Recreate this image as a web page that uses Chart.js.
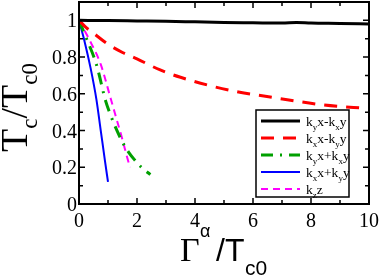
<!DOCTYPE html>
<html>
<head>
<meta charset="utf-8">
<script src="https://cdn.jsdelivr.net/npm/chart.js@4.4.1/dist/chart.umd.min.js"></script>
<style>
	html, body { margin: 0; padding: 0; background: #fff; }
	#wrap { width: 382px; height: 276px; position: relative; overflow: hidden; }
	#overlay { position: absolute; left: 0; top: 0; width: 382px; height: 276px; pointer-events: none; }
	#overlay div, #overlay span { white-space: nowrap; color: #000; }
	.serif { font-family: "Liberation Serif", "Times New Roman", serif; }
	.sans { font-family: "Liberation Sans", Arial, sans-serif; }
	.abs { position: absolute; }
	.tick { position: absolute; font-size: 20px; line-height: 20px; }
	.low { line-height: 0; position: relative; }
</style>
</head>
<body>
<div id="wrap">
	<canvas id="tc-chart" width="382" height="276"></canvas>
	<div id="overlay"></div>
</div>
<script>
	'use strict';

	// Tick positions / labels
	const xTicks = [0, 2, 4, 6, 8, 10];
	const xMinorTicks = [1, 3, 5, 7, 9];
	const yTicks = [0, 0.2, 0.4, 0.6, 0.8, 1];
	const yMinorTicks = [0.1, 0.3, 0.5, 0.7, 0.9];
	const xTickLabels = ['0', '2', '4', '6', '8', '10'];
	const yTickLabels = ['0', '0.2', '0.4', '0.6', '0.8', '1'];

	// k_y x - k_x y (black, solid)
	const blackX = [0, 1, 2, 3, 4, 5, 6, 7, 7.5, 8, 9, 10];
	const blackY = [1, 0.999, 0.997, 0.995, 0.992, 0.989, 0.987, 0.985, 0.988, 0.985, 0.983, 0.98];

	// k_x x - k_y y (red, dashed)
	const redX = [0, 0.25, 0.5, 1, 1.5, 2, 2.8, 3.5, 4.5, 5.5, 6.7, 8.4, 10];
	const redY = [1, 0.96, 0.93, 0.87, 0.825, 0.79, 0.73, 0.69, 0.645, 0.61, 0.58, 0.54, 0.52];

	// k_y x + k_x y (green, dash-dot)
	const greenX = [0, 0.26, 0.6, 0.92, 1.05, 1.28, 1.49, 1.72, 1.92, 2.15, 2.46];
	const greenY = [1, 0.9, 0.76, 0.56, 0.5, 0.41, 0.34, 0.28, 0.24, 0.2, 0.16];

	// k_x x + k_y y (blue, solid)
	const blueX = [0, 0.2, 0.4, 0.6, 0.75, 0.9, 1.0];
	const blueY = [1, 0.88, 0.74, 0.57, 0.4, 0.23, 0.12];

	// k_z z (magenta, dashed)
	const magentaX = [0, 0.34, 0.75, 1.1, 1.3, 1.5, 1.65, 1.76];
	const magentaY = [1, 0.9, 0.76, 0.57, 0.46, 0.35, 0.26, 0.2];

	// '_' makes the next character a subscript
	const legendLabels = ['k_yx-k_xy', 'k_xx-k_yy', 'k_yx+k_xy', 'k_xx+k_yy', 'k_zz'];

	function points(xs, ys) {
		return xs.map((x, i) => ({ x: x, y: ys[i] }));
	}

	function series(xs, ys, color, width, dash) {
		return {
			data: points(xs, ys),
			borderColor: color,
			borderWidth: width,
			borderDash: dash,
			borderCapStyle: 'butt',
			pointRadius: 0,
			fill: false,
			cubicInterpolationMode: 'monotone'
		};
	}

	const datasets = [
		series(blackX, blackY, '#000000', 3, []),
		series(redX, redY, '#ff0000', 3, [13, 9]),
		series(greenX, greenY, '#00a000', 3, [12, 7, 2, 7]),
		series(blueX, blueY, '#0000ff', 2, []),
		series(magentaX, magentaY, '#ff00ff', 2, [7, 5])
	];

	const LEGEND = { x: 256, y: 110, w: 93, h: 87, first: 121, step: 17 };

	// frame, inward ticks and legend box/samples (text goes in the html overlay)
	const framePlugin = {
		id: 'frame',
		afterDatasetsDraw(chart) {
			const ctx = chart.ctx;
			const a = chart.chartArea;
			const sx = chart.scales.x;
			const sy = chart.scales.y;

			ctx.save();
			ctx.strokeStyle = '#000';

			ctx.lineWidth = 1.5;
			ctx.beginPath();
			const tickX = (v, len) => {
				const px = sx.getPixelForValue(v);
				ctx.moveTo(px, a.bottom); ctx.lineTo(px, a.bottom - len);
				ctx.moveTo(px, a.top); ctx.lineTo(px, a.top + len);
			};
			const tickY = (v, len) => {
				const py = sy.getPixelForValue(v);
				ctx.moveTo(a.left, py); ctx.lineTo(a.left + len, py);
				ctx.moveTo(a.right, py); ctx.lineTo(a.right - len, py);
			};
			xTicks.forEach(v => tickX(v, 6));
			xMinorTicks.forEach(v => tickX(v, 4));
			yTicks.forEach(v => tickY(v, 6));
			yMinorTicks.forEach(v => tickY(v, 4));
			ctx.stroke();

			ctx.lineWidth = 2;
			ctx.strokeRect(a.left, a.top, a.right - a.left, a.bottom - a.top);

			ctx.fillStyle = '#fff';
			ctx.fillRect(LEGEND.x, LEGEND.y, LEGEND.w, LEGEND.h);
			ctx.lineWidth = 1.5;
			ctx.strokeRect(LEGEND.x, LEGEND.y, LEGEND.w, LEGEND.h);

			datasets.forEach((ds, i) => {
				const cy = LEGEND.first + i * LEGEND.step;
				ctx.save();
				ctx.strokeStyle = ds.borderColor;
				ctx.lineWidth = ds.borderWidth;
				ctx.setLineDash(ds.borderDash);
				ctx.beginPath();
				ctx.moveTo(261, cy);
				ctx.lineTo(300, cy);
				ctx.stroke();
				ctx.restore();
			});
			ctx.restore();
		}
	};

	function el(cls, html, css) {
		const d = document.createElement('div');
		d.className = cls;
		d.innerHTML = html;
		Object.assign(d.style, css);
		document.getElementById('overlay').appendChild(d);
		return d;
	}

	function labelHtml(label) {
		return label.replace(/_(.)/g,
			'<span class="low" style="font-size:9px;top:4px">$1</span>');
	}

	// text layer: tick labels, axis titles, legend labels
	function buildOverlay(chart) {
		const sx = chart.scales.x;
		const sy = chart.scales.y;

		xTicks.forEach((v, i) => {
			el('tick serif', xTickLabels[i], {
				left: sx.getPixelForValue(v) + 'px',
				top: '219.5px',
				transform: 'translate(-50%, -50%)'
			});
		});
		yTicks.forEach((v, i) => {
			el('tick serif', yTickLabels[i], {
				right: (382 - 77) + 'px',
				top: sy.getPixelForValue(v) + 'px',
				transform: 'translateY(-50%)'
			});
		});

		// legend labels, baseline at row centre + 5
		legendLabels.forEach((lab, i) => {
			const base = LEGEND.first + i * LEGEND.step + 5;
			el('abs serif', labelHtml(lab), {
				left: '306px',
				top: (base - 0.8375 * 13.5) + 'px',
				fontSize: '13.5px',
				lineHeight: '13.5px'
			});
		});

		// y title, rotated, baseline starts at (27, 152)
		const yt = el('abs', '', { left: '27px', top: '152px', width: '0', height: '0',
			transform: 'rotate(-90deg)', transformOrigin: '0 0' });
		const run = document.createElement('div');
		run.className = 'abs serif';
		Object.assign(run.style, { left: '0', top: (-0.8375 * 38) + 'px', fontSize: '38px', lineHeight: '38px' });
		run.innerHTML = 'T<span class="low" style="font-size:23px;top:10px">c</span>/T' +
			'<span class="low" style="font-size:23px;top:10px">c0</span>';
		yt.appendChild(run);

		// x title pieces, each placed by its baseline
		const piece = (cls, txt, x, base, size, k) => el('abs ' + cls, txt, {
			left: x + 'px', top: (base - k * size) + 'px', fontSize: size + 'px', lineHeight: size + 'px'
		});
		piece('serif', '\u0393', 180, 261, 34, 0.8375);
		piece('sans', '\u03b1', 200, 237, 18, 0.8465);
		piece('sans', '/T', 216, 261, 32, 0.8465);
		piece('sans', 'c0', 245, 275, 21, 0.8465);
	}

	const chart = new Chart(document.getElementById('tc-chart'), {
		type: 'line',
		data: { datasets: datasets },
		options: {
			responsive: false,
			animation: false,
			devicePixelRatio: 1,
			layout: { padding: { top: 2, right: 13, left: 0, bottom: 0 } },
			plugins: {
				legend: { display: false },
				tooltip: { enabled: false }
			},
			scales: {
				x: {
					type: 'linear',
					min: 0,
					max: 10,
					afterFit: s => { s.height = 72; },
					grid: { display: false, drawTicks: false },
					border: { display: false },
					ticks: { display: false }
				},
				y: {
					type: 'linear',
					min: 0,
					max: 1.1,
					afterFit: s => { s.width = 79; },
					grid: { display: false, drawTicks: false },
					border: { display: false },
					ticks: { display: false }
				}
			}
		},
		plugins: [framePlugin]
	});

	buildOverlay(chart);
</script>
</body>
</html>
